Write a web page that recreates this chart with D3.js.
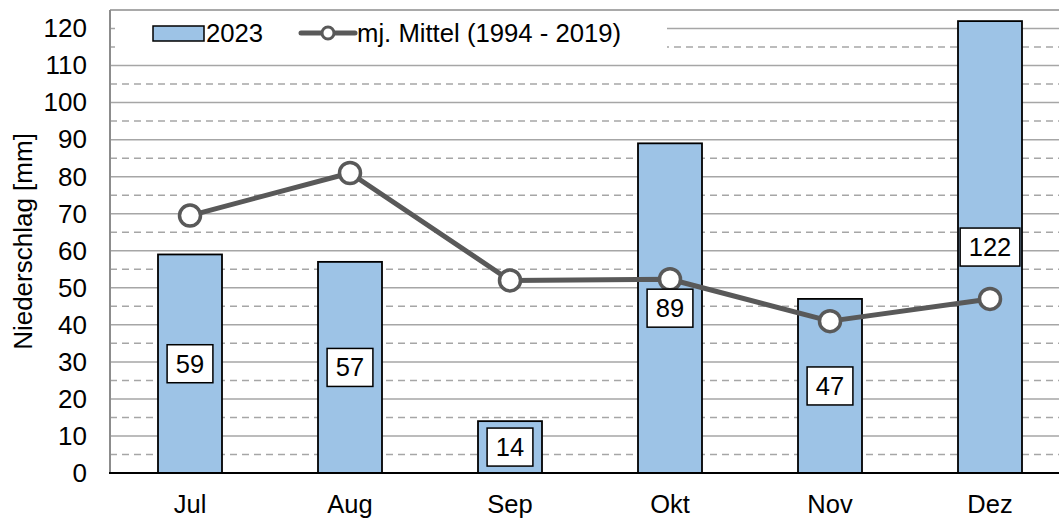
<!DOCTYPE html>
<html>
<head>
<meta charset="utf-8">
<script src="https://cdn.jsdelivr.net/npm/d3@7"></script>
<style>
  html, body { margin: 0; padding: 0; background: #fff; }
  svg { display: block; font-family: "Liberation Sans", Arial, sans-serif; }
</style>
</head>
<body>
<svg id="chart" width="1059" height="521"></svg>
<script>
// Daten
const months = ['Jul', 'Aug', 'Sep', 'Okt', 'Nov', 'Dez'];
const values2023 = [59, 57, 14, 89, 47, 122];
const meanValues = [69.5, 81, 52, 52.3, 41, 47];
const yTicks = [0, 10, 20, 30, 40, 50, 60, 70, 80, 90, 100, 110, 120];
const dashedTicks = [5, 15, 25, 35, 45, 55, 65, 75, 85, 95, 105, 115];

const W = 1059, H = 521;
const svg = d3.select('#chart');

// Plot-Bereich (rechts über den Bildrand hinaus, wie im Original abgeschnitten)
const x = d3.scaleBand().domain(months).range([110, 1070]).paddingInner(0.6).paddingOuter(0.3);
const y = d3.scaleLinear().domain([0, 125]).range([473, 10]);

const grid = svg.append('g');
grid.selectAll('line.solid').data(yTicks.filter(d => d > 0)).enter().append('line')
  .attr('x1', 110).attr('x2', W).attr('y1', d => y(d)).attr('y2', d => y(d))
  .attr('stroke', '#a6a6a6').attr('stroke-width', 1.5);
grid.selectAll('line.dash').data(dashedTicks).enter().append('line')
  .attr('x1', 110).attr('x2', W).attr('y1', d => y(d)).attr('y2', d => y(d))
  .attr('stroke', '#a6a6a6').attr('stroke-width', 1.5).attr('stroke-dasharray', '7,5');

// Rahmen oben
svg.append('line').attr('x1', 110).attr('x2', W).attr('y1', y(125)).attr('y2', y(125))
  .attr('stroke', '#8c8c8c').attr('stroke-width', 1.5);

// Legende (weißer Hintergrund überdeckt Gitter)
const legend = svg.append('g');
legend.append('rect').attr('x', 115).attr('y', 12).attr('width', 552).attr('height', 45).attr('fill', '#fff');

// Balken
svg.append('g').selectAll('rect').data(values2023).enter().append('rect')
  .attr('x', (d, i) => x(months[i]))
  .attr('y', d => y(d))
  .attr('width', x.bandwidth())
  .attr('height', d => y(0) - y(d))
  .attr('fill', '#9dc3e6').attr('stroke', '#000').attr('stroke-width', 1.8);

// Achsen
svg.append('line').attr('x1', 110).attr('x2', 110).attr('y1', y(125)).attr('y2', y(0))
  .attr('stroke', '#8c8c8c').attr('stroke-width', 2);
svg.append('line').attr('x1', 109).attr('x2', W).attr('y1', y(0)).attr('y2', y(0))
  .attr('stroke', '#000').attr('stroke-width', 2);

const yAxis = d3.axisLeft(y).tickValues(yTicks).tickSize(0).tickPadding(23);
const gy = svg.append('g').attr('transform', 'translate(110,0)').call(yAxis);
gy.select('.domain').remove();
gy.selectAll('text').attr('font-size', 26).attr('fill', '#000').attr('font-family', '"Liberation Sans", Arial, sans-serif');

const xAxis = d3.axisBottom(x).tickSize(0).tickPadding(22);
const gx = svg.append('g').attr('transform', `translate(0,${y(0)})`).call(xAxis);
gx.select('.domain').remove();
gx.selectAll('text').attr('font-size', 25.5).attr('fill', '#000').attr('font-family', '"Liberation Sans", Arial, sans-serif');

// Achsentitel
svg.append('text')
  .attr('transform', `translate(32,${(y(0) + y(125)) / 2}) rotate(-90)`)
  .attr('text-anchor', 'middle').attr('font-size', 26).text('Niederschlag [mm]');

// Linie mj. Mittel
const line = d3.line().x((d, i) => x(months[i]) + x.bandwidth() / 2).y(d => y(d));
svg.append('path').datum(meanValues).attr('d', line)
  .attr('fill', 'none').attr('stroke', '#595959').attr('stroke-width', 5).attr('stroke-linejoin', 'round');
svg.append('g').selectAll('circle').data(meanValues).enter().append('circle')
  .attr('cx', (d, i) => x(months[i]) + x.bandwidth() / 2)
  .attr('cy', d => y(d)).attr('r', 10.5)
  .attr('fill', '#fff').attr('stroke', '#595959').attr('stroke-width', 3.5);

// Datenbeschriftungen
const labels = svg.append('g').selectAll('g').data(values2023).enter().append('g')
  .attr('transform', (d, i) => `translate(${x(months[i]) + x.bandwidth() / 2},${y(d / 2)})`);
labels.append('rect')
  .attr('x', d => -(String(d).length * 13.9 + 18) / 2)
  .attr('y', -19)
  .attr('width', d => String(d).length * 13.9 + 18)
  .attr('height', 38)
  .attr('fill', '#fff').attr('stroke', '#000').attr('stroke-width', 1.5);
labels.append('text').attr('text-anchor', 'middle').attr('dy', 9).attr('font-size', 25.5).text(d => d);

// Legende Inhalt
legend.append('rect').attr('x', 153).attr('y', 26).attr('width', 51).attr('height', 15)
  .attr('fill', '#9dc3e6').attr('stroke', '#000').attr('stroke-width', 1.5);
legend.append('text').attr('x', 206).attr('y', 42).attr('font-size', 25.7).text('2023');
legend.append('line').attr('x1', 301).attr('x2', 355).attr('y1', 33).attr('y2', 33)
  .attr('stroke', '#595959').attr('stroke-width', 5).attr('stroke-linecap', 'round');
legend.append('circle').attr('cx', 328).attr('cy', 33).attr('r', 6)
  .attr('fill', '#fff').attr('stroke', '#595959').attr('stroke-width', 3);
legend.append('text').attr('x', 357).attr('y', 42).attr('font-size', 25.7).text('mj. Mittel (1994 - 2019)');
</script>
</body>
</html>
